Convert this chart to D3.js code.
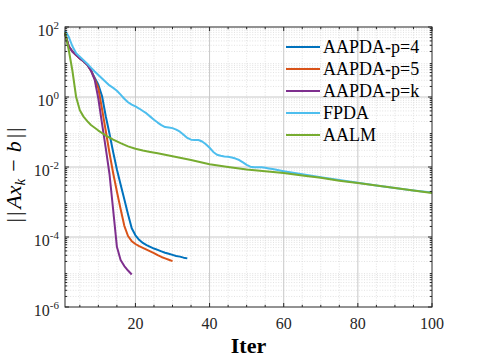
<!DOCTYPE html>
<html><head><meta charset="utf-8">
<script src="https://cdn.jsdelivr.net/npm/d3@7"></script>
<style>
body{margin:0;background:#fff;}
svg{display:block;}
svg text{font-family:"Liberation Serif","Times New Roman",Times,"DejaVu Serif",serif;}
</style>
</head><body>
<svg id="chart" width="478" height="359"></svg>
<script>
// ---- data ----
const seriesNames  = ["AAPDA-p=4","AAPDA-p=5","AAPDA-p=k","FPDA","AALM"];
const seriesColors = ["#0072BD","#D95319","#7E2F8E","#4DBEEE","#77AC30"];

const iterP4 = [1,2,3,4,5,6,7,8,9,10,11,12,13,14,15,16,17,18,19,20,21,22,23,24,25,26,27,28,29,30,31,32,33,34];
const valP4  = [6.61e1,2.82e1,2.00e1,1.58e1,1.26e1,1.05e1,8.32,5.75,3.55,2.24,
                1.05,2.82e-1,8.91e-2,2.63e-2,8.51e-3,3.16e-3,1.20e-3,4.47e-4,1.78e-4,1.12e-4,
                8.32e-5,6.76e-5,5.89e-5,5.25e-5,4.68e-5,4.27e-5,3.89e-5,3.55e-5,3.31e-5,3.09e-5,2.88e-5,2.75e-5,2.57e-5,2.45e-5];

const iterP5 = [1,2,3,4,5,6,7,8,9,10,11,12,13,14,15,16,17,18,19,20,21,22,23,24,25,26,27,28,29,30];
const valP5  = [6.61e1,2.82e1,2.00e1,1.58e1,1.26e1,1.05e1,8.32,5.75,3.31,1.78,
                4.47e-1,1.07e-1,2.51e-2,6.61e-3,2.00e-3,6.31e-4,2.09e-4,1.07e-4,7.59e-5,6.31e-5,
                5.50e-5,4.90e-5,4.37e-5,3.89e-5,3.47e-5,3.02e-5,2.69e-5,2.45e-5,2.24e-5,2.04e-5];

const iterPk = [1,2,3,4,5,6,7,8,9,10,11,12,13,14,15,16,17,18,19];
const valPk  = [6.61e1,2.82e1,2.00e1,1.58e1,1.26e1,1.05e1,8.32,5.75,3.16,8.91e-1,
                1.70e-1,3.39e-2,6.31e-3,5.89e-4,5.25e-5,2.19e-5,1.48e-5,1.10e-5,8.51e-6];

const iterFPDA = [1,2,3,4,5,6,7,8,9,10,11,12,13,14,15,16,17,18,19,20,21,22,23,24,25,26,27,28,29,30,
                  31,32,33,34,35,36,37,38,39,40,41,42,43,44,45,46,47,48,49,50,51,52,53,54,55,56,57,58,59,60,
                  65,70,75,80,85,90,95,100];
const valFPDA  = [7.94e1,5.25e1,2.82e1,1.78e1,1.41e1,1.12e1,8.91,6.92,5.37,4.27,
                  3.39,2.69,2.14,1.82,1.51,1.17,8.91e-1,7.08e-1,6.03e-1,5.37e-1,
                  4.68e-1,3.98e-1,3.39e-1,2.75e-1,2.24e-1,1.86e-1,1.58e-1,1.38e-1,1.35e-1,1.29e-1,
                  1.17e-1,1.02e-1,8.32e-2,6.76e-2,6.03e-2,5.89e-2,5.89e-2,5.37e-2,4.47e-2,3.55e-2,
                  2.69e-2,2.24e-2,2.09e-2,2.00e-2,1.95e-2,1.86e-2,1.74e-2,1.58e-2,1.35e-2,1.15e-2,
                  1.02e-2,9.77e-3,9.77e-3,9.77e-3,9.55e-3,9.12e-3,8.71e-3,8.32e-3,7.94e-3,7.59e-3,
                  6.17e-3,5.13e-3,4.27e-3,3.55e-3,2.95e-3,2.51e-3,2.14e-3,1.86e-3];

const iterAALM = [1,2,3,4,5,6,7,8,9,10,12,14,16,18,20,22,24,26,28,30,35,40,45,50,55,60,65,70,75,80,85,90,95,100];
const valAALM  = [7.08e1,2.24e1,5.62,1.00,4.17e-1,2.75e-1,2.04e-1,1.58e-1,1.32e-1,1.10e-1,
                  7.94e-2,6.03e-2,4.79e-2,3.89e-2,3.31e-2,2.95e-2,2.69e-2,2.46e-2,2.24e-2,2.04e-2,
                  1.58e-2,1.20e-2,1.00e-2,8.51e-3,7.59e-3,6.76e-3,5.75e-3,4.90e-3,4.07e-3,3.47e-3,
                  2.95e-3,2.51e-3,2.14e-3,1.82e-3];

const xTickValues = [20,40,60,80,100];
const xTickLabels = ["20","40","60","80","100"];
const yTickValues = [1e2,1e0,1e-2,1e-4,1e-6];
const yTickExps   = ["2","0","-2","-4","-6"];
const xLabel = "Iter";

// ---- layout ----
const FONT = "'Liberation Serif','Times New Roman',Times,'DejaVu Serif',serif";
const L = 65, T = 27, R = 432, B = 307;
const svg = d3.select("#chart");

const x = d3.scaleLinear().domain([1,100]).range([L,R]);
const y = d3.scaleLog().domain([1e-6,1e2]).range([B,T]);

const seriesIters = [iterP4, iterP5, iterPk, iterFPDA, iterAALM];
const seriesVals  = [valP4, valP5, valPk, valFPDA, valAALM];

const xMinor = d3.range(5,100,5).filter(v => v % 20 !== 0);
const yMinor = [];
for (let e = -6; e < 2; e++) for (let m = 2; m <= 9; m++) yMinor.push(m * Math.pow(10, e));

const grid = svg.append("g");
grid.selectAll(".xmin").data(xMinor).enter().append("line")
  .attr("x1", d=>x(d)).attr("x2", d=>x(d)).attr("y1", T).attr("y2", B)
  .attr("stroke","#d6d6d6").attr("stroke-width",0.7).attr("stroke-dasharray","1,1.6");
grid.selectAll(".ymin").data(yMinor).enter().append("line")
  .attr("x1", L).attr("x2", R).attr("y1", d=>y(d)).attr("y2", d=>y(d))
  .attr("stroke","#d6d6d6").attr("stroke-width",0.7).attr("stroke-dasharray","1,1.6");
grid.selectAll(".xmaj").data(xTickValues.filter(v=>v<100)).enter().append("line")
  .attr("x1", d=>x(d)).attr("x2", d=>x(d)).attr("y1", T).attr("y2", B)
  .attr("stroke","#c8c8c8").attr("stroke-width",1);
grid.selectAll(".ymaj").data(yTickValues.filter(v=>v<1e2 && v>1e-6)).enter().append("line")
  .attr("x1", L).attr("x2", R).attr("y1", d=>y(d)).attr("y2", d=>y(d))
  .attr("stroke","#c8c8c8").attr("stroke-width",1);

// lines
const line = d3.line().x(d=>x(d[0])).y(d=>y(d[1]));
seriesNames.forEach((name,i) => {
  const pts = seriesIters[i].map((k,j)=>[k, seriesVals[i][j]]);
  svg.append("path").datum(pts).attr("d", line)
    .attr("fill","none").attr("stroke", seriesColors[i]).attr("stroke-width",2)
    .attr("stroke-linejoin","round").attr("stroke-linecap","butt");
});

// axes box + inward ticks on all sides
const ax = svg.append("g").attr("stroke","#262626").attr("stroke-width",1);
ax.append("rect").attr("x",L).attr("y",T).attr("width",R-L).attr("height",B-T).attr("fill","none");
const maj = 4, mnr = 2.2;
xTickValues.forEach(v => {
  ax.append("line").attr("x1",x(v)).attr("x2",x(v)).attr("y1",B).attr("y2",B-maj);
  ax.append("line").attr("x1",x(v)).attr("x2",x(v)).attr("y1",T).attr("y2",T+maj);
});
xMinor.forEach(v => {
  ax.append("line").attr("x1",x(v)).attr("x2",x(v)).attr("y1",B).attr("y2",B-mnr);
  ax.append("line").attr("x1",x(v)).attr("x2",x(v)).attr("y1",T).attr("y2",T+mnr);
});
yTickValues.forEach(v => {
  ax.append("line").attr("x1",L).attr("x2",L+maj).attr("y1",y(v)).attr("y2",y(v));
  ax.append("line").attr("x1",R).attr("x2",R-maj).attr("y1",y(v)).attr("y2",y(v));
});
yMinor.forEach(v => {
  ax.append("line").attr("x1",L).attr("x2",L+mnr).attr("y1",y(v)).attr("y2",y(v));
  ax.append("line").attr("x1",R).attr("x2",R-mnr).attr("y1",y(v)).attr("y2",y(v));
});

// x tick labels
xTickValues.forEach((v,i) => {
  svg.append("text").attr("x", x(v)).attr("y", B+22).attr("text-anchor","middle")
    .attr("font-family",FONT).attr("font-size",16).attr("fill","#262626").text(xTickLabels[i]);
});
// y tick labels (10^n)
yTickValues.forEach((v,i) => {
  const t = svg.append("text").attr("x", L-6).attr("y", y(v)+9).attr("text-anchor","end")
    .attr("font-family",FONT).attr("font-size",16).attr("fill","#262626");
  t.append("tspan").text("10");
  t.append("tspan").attr("font-size",11).attr("dy",-7).text(yTickExps[i]);
});

// axis labels
svg.append("text").attr("x",(L+R)/2).attr("y",353).attr("text-anchor","middle")
  .attr("font-family",FONT).attr("font-size",22).attr("font-weight","bold").attr("fill","#000").text(xLabel);

const yl = svg.append("text").attr("transform","translate(21,175) rotate(-90)")
  .attr("text-anchor","middle").attr("font-family",FONT).attr("font-size",22).attr("fill","#000");
yl.append("tspan").text("|");
yl.append("tspan").attr("dx",2).text("|");
yl.append("tspan").attr("dx",3).attr("font-style","italic").text("Ax");
yl.append("tspan").attr("font-style","italic").attr("font-size",15).attr("dy",4).text("k");
yl.append("tspan").attr("dy",-4).attr("dx",7).text("\u2212");
yl.append("tspan").attr("dx",7).attr("font-style","italic").text("b");
yl.append("tspan").attr("dx",3).text("|");
yl.append("tspan").attr("dx",2).text("|");

// legend (no box)
const lg = svg.append("g");
seriesNames.forEach((name,i) => {
  const cy = 47 + i*22;
  lg.append("line").attr("x1",286).attr("x2",320).attr("y1",cy).attr("y2",cy)
    .attr("stroke",seriesColors[i]).attr("stroke-width",2);
  lg.append("text").attr("x",323).attr("y",cy+6).attr("font-family",FONT)
    .attr("font-size",18).attr("fill","#000").text(name);
});
</script>
</body></html>
